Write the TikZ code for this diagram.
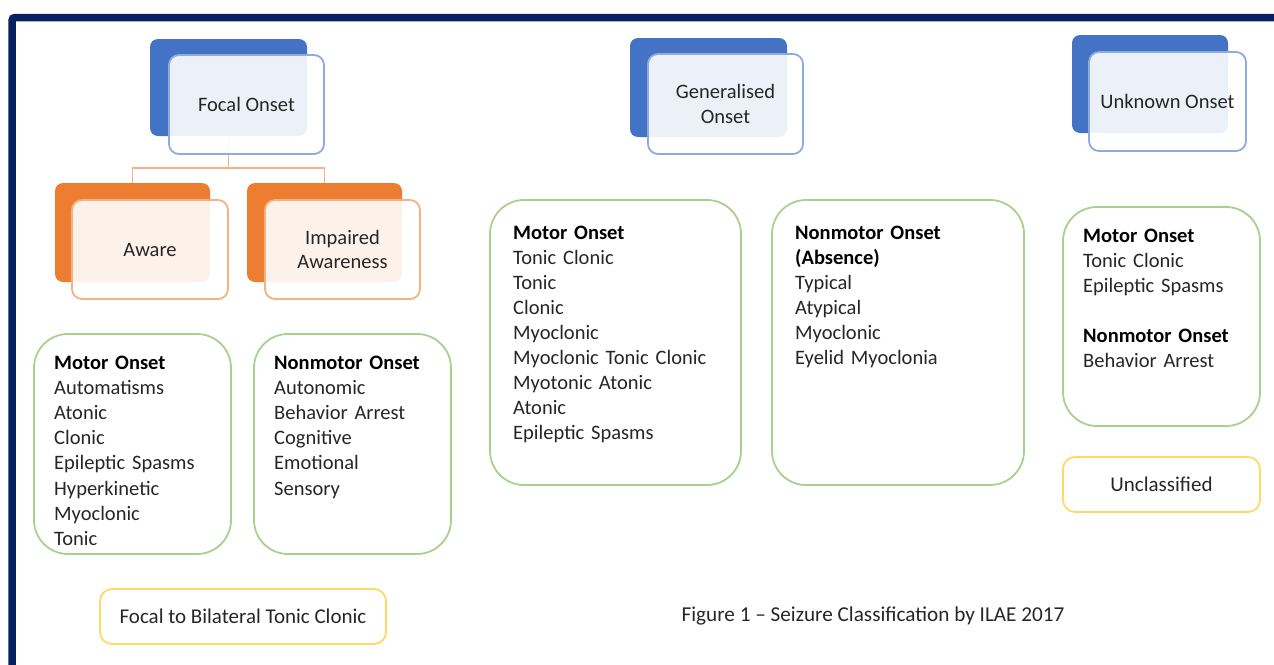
\documentclass[tikz,border=0pt]{standalone}
\usepackage{fontspec}
\setmainfont{Carlito}
\definecolor{navyframe}{HTML}{062060}
\definecolor{blueback}{HTML}{4472C4}
\definecolor{bluefront}{HTML}{8FAADC}
\definecolor{orangeback}{HTML}{ED7D31}
\definecolor{orangefront}{HTML}{F4B183}
\definecolor{greenline}{HTML}{A9D18E}
\definecolor{yellowline}{HTML}{FFD966}
\definecolor{txt}{HTML}{262626}
\tikzset{
  box/.style={inner sep=0pt, outer sep=0pt},
  backblue/.style={box, fill=blueback, rounded corners=8pt},
  backorange/.style={box, fill=orangeback, rounded corners=8pt},
  frontblue/.style={box, fill=white, fill opacity=0.9, text opacity=1, draw=bluefront, line width=1.8pt, rounded corners=10pt, align=center, text=txt, font=\fontsize{20.5}{24.5}\selectfont},
  frontorange/.style={frontblue, draw=orangefront},
  greenbox/.style={box, draw=greenline, line width=1.8pt, rounded corners=34pt},
  yellowbox/.style={box, draw=yellowline, line width=1.8pt, rounded corners=12pt, text=txt, font=\fontsize{21}{25}\selectfont},
  listtext/.style={inner sep=0pt, anchor=base west, text width=250pt, align=left, text=txt, font=\fontsize{20.5}{25.1}\selectfont},
  conn/.style={draw=orangefront, line width=1.8pt},
}
\begin{document}
\begin{tikzpicture}[x=1pt,y=-1pt]
\useasboundingbox (0,0) rectangle (1274,664);
% frame
\draw[navyframe, line width=7.5pt, rounded corners=3pt] (1285,17.5) -- (12,17.5) -- (12,680);

% back boxes
\node[backblue, minimum width=157pt, minimum height=97pt] (fb) at (228.5,87.5) {};
\node[backorange, minimum width=155pt, minimum height=99pt] (awb) at (132.5,232.5) {};
\node[backorange, minimum width=155pt, minimum height=99pt] (imb) at (324.5,232.5) {};
\node[backblue, minimum width=157pt, minimum height=99pt] (gb) at (708.5,87.5) {};
\node[backblue, minimum width=156pt, minimum height=98pt] (ub) at (1150,84) {};

% connectors
\coordinate (j) at (228.5,168);
\draw[conn] (fb.south) -- (j) -| (awb.north);
\draw[conn] (j) -| (imb.north);

% front boxes
\node[frontblue, minimum width=155pt, minimum height=99pt] (ff) at (246.5,104.5) {Focal Onset};
\node[frontorange, minimum width=156pt, minimum height=99pt] (awf) at (150,249.5) {Aware};
\node[frontorange, minimum width=155pt, minimum height=99pt] (imf) at (342.5,249.5) {Impaired\\Awareness};
\node[frontblue, minimum width=155pt, minimum height=100pt] (gf) at (725.5,104) {Generalised\\Onset};
\node[frontblue, minimum width=157pt, minimum height=99pt] (uf) at (1167.5,101.5) {Unknown Onset};

% green boxes
\node[greenbox, minimum width=197pt, minimum height=220pt] (fm) at (132.5,444) {};
\node[greenbox, minimum width=197pt, minimum height=220pt] (fn) at (352.5,444) {};
\node[greenbox, minimum width=251pt, minimum height=285pt] (gm) at (615.5,342.5) {};
\node[greenbox, minimum width=252pt, minimum height=285pt] (gn) at (898,342.5) {};
\node[greenbox, minimum width=197pt, minimum height=219pt] (um) at (1161.5,316.5) {};

% list texts
\node[listtext] (fmt) at (54,369.5) {\textbf{\color{black}Motor Onset}\\Automatisms\\Atonic\\Clonic\\Epileptic Spasms\\Hyperkinetic\\Myoclonic\\Tonic};
\node[listtext] (fnt) at (274,369.5) {\textbf{\color{black}Nonmotor Onset}\\Autonomic\\Behavior Arrest\\Cognitive\\Emotional\\Sensory};
\node[listtext] (gmt) at (513,239) {\textbf{\color{black}Motor Onset}\\Tonic Clonic\\Tonic\\Clonic\\Myoclonic\\Myoclonic Tonic Clonic\\Myotonic Atonic\\Atonic\\Epileptic Spasms};
\node[listtext] (gnt) at (795,239) {\textbf{\color{black}Nonmotor Onset}\\\textbf{\color{black}(Absence)}\\Typical\\Atypical\\Myoclonic\\Eyelid Myoclonia};
\node[listtext] (umt) at (1083,242) {\textbf{\color{black}Motor Onset}\\Tonic Clonic\\Epileptic Spasms\\[25.1pt]\textbf{\color{black}Nonmotor Onset}\\Behavior Arrest};

% yellow boxes
\node[yellowbox, minimum width=286pt, minimum height=55pt] (fbtc) at (243,616.5) {Focal to Bilateral Tonic Clonic};
\node[yellowbox, minimum width=197pt, minimum height=55pt] (uc) at (1161.5,484.5) {Unclassified};

% caption
\node[inner sep=0pt, text=txt, font=\fontsize{21.2}{25}\selectfont] (cap) at (873,616) {Figure 1 -- Seizure Classification by ILAE 2017};
\end{tikzpicture}
\end{document}
